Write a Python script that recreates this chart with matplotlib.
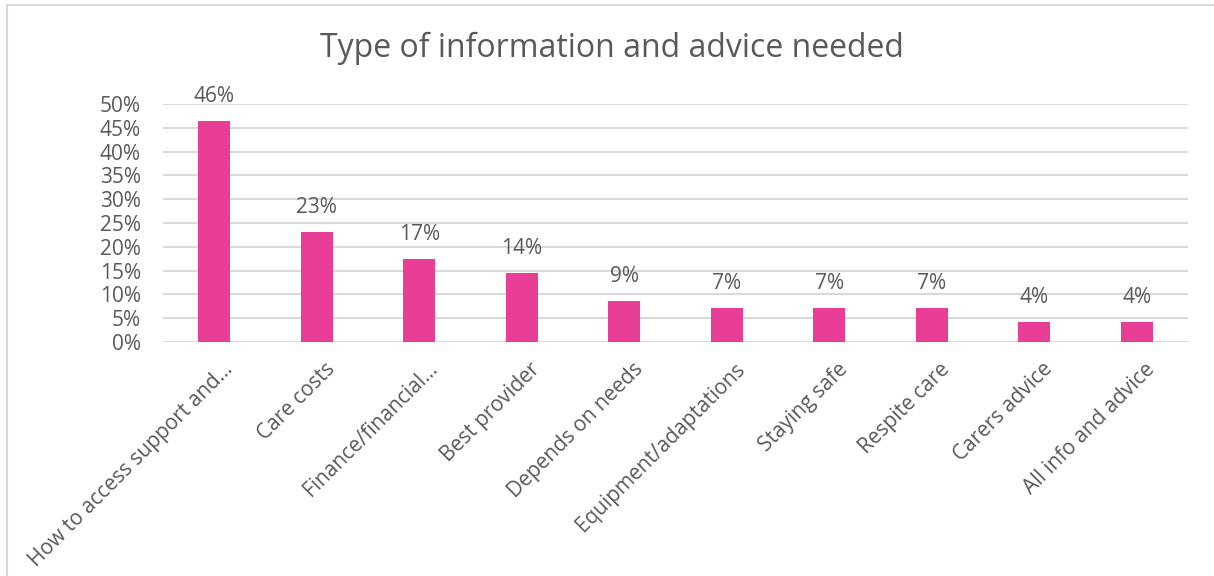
import matplotlib
matplotlib.use("Agg")
import matplotlib.pyplot as plt
from matplotlib.lines import Line2D
from matplotlib.ticker import MultipleLocator, PercentFormatter
import matplotlib.transforms as mtransforms

categories = ["How to access support and...", "Care costs", "Finance/financial...",
              "Best provider", "Depends on needs", "Equipment/adaptations",
              "Staying safe", "Respite care", "Carers advice", "All info and advice"]
values = [46.4, 23.2, 17.4, 14.5, 8.7, 7.2, 7.2, 7.2, 4.3, 4.3]
labels = ["46%", "23%", "17%", "14%", "9%", "7%", "7%", "7%", "4%", "4%"]
title = "Type of information and advice needed"

TXT = "#595959"
GRID = "#D9D9D9"
BAR = "#E83E96"
plt.rcParams['font.family'] = ['Open Sans', 'DejaVu Sans']

W, H = 1214, 576
fig = plt.figure(figsize=(W / 100, H / 100), dpi=100)
ax = fig.add_axes([163 / W, 1 - 342 / H, (1188 - 163) / W, (342 - 104) / H])

x = list(range(len(categories)))
ax.bar(x, values, width=0.31, color=BAR, zorder=3)
for xi, v, lab in zip(x, values, labels):
    ax.annotate(lab, (xi, v), xytext=(0, 10), textcoords="offset points",
                ha="center", va="bottom", fontsize=15, color=TXT)

ax.set_xlim(-0.5, len(categories) - 0.5)
ax.set_ylim(0, 50)
ax.yaxis.set_major_locator(MultipleLocator(5))
ax.yaxis.set_major_formatter(PercentFormatter(decimals=0))
ax.grid(axis="y", color=GRID, linewidth=1.5, zorder=0)
for s in ax.spines.values():
    s.set_visible(False)
ax.tick_params(axis="both", length=0, labelsize=15, colors=TXT)
ax.tick_params(axis="y", pad=16)
ax.set_xticks(x)
ax.set_xticklabels(categories, rotation=45, ha="right", va="top",
                   rotation_mode="anchor", fontsize=15, color=TXT)
ax.tick_params(axis="x", pad=12)
off = mtransforms.ScaledTranslation(8 / 100, 0, fig.dpi_scale_trans)
for t in ax.get_xticklabels():
    t.set_transform(t.get_transform() + off)

fig.text(612 / W, 1 - 48 / H, title, ha="center", va="center", fontsize=23, color=TXT)

fig.add_artist(Line2D([7 / W, 7 / W], [0, 1 - 5 / H], color=GRID, linewidth=1.5))
fig.add_artist(Line2D([7 / W, 1], [1 - 5 / H, 1 - 5 / H], color=GRID, linewidth=1.5))

fig.savefig("out.png", dpi=100, facecolor="white")
